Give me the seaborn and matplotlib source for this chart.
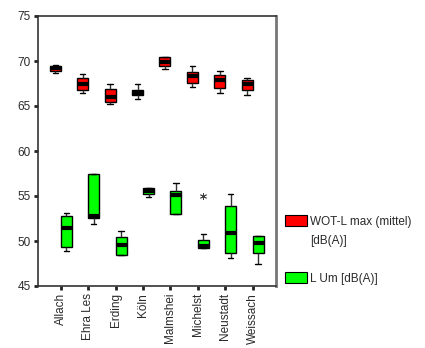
import matplotlib
matplotlib.use("Agg")
import matplotlib.pyplot as plt
import seaborn as sns
import pandas as pd
from matplotlib.patches import Patch

# Orte (Messstellen)
orte = ["Allach", "Ehra Les", "Erding", "Köln",
        "Malmshei", "Michelst", "Neustadt", "Weissach"]

# WOT-L max (mittel) [dB(A)] - Werte je Ort
wot_lmax = [
    [68.65, 68.9, 69.2, 69.45, 69.55],
    [66.4, 66.75, 67.5, 68.1, 68.6],
    [65.25, 65.5, 65.95, 66.9, 67.4],
    [65.75, 66.25, 66.5, 66.8, 67.4],
    [69.15, 69.5, 69.9, 70.4, 70.4],
    [67.15, 67.6, 68.3, 68.8, 69.4],
    [66.5, 67.0, 67.9, 68.4, 68.9],
    [66.25, 66.75, 67.45, 67.9, 68.15],
]

# L Um [dB(A)] - Werte je Ort (Michelst mit Ausreisser)
l_um = [
    [48.9, 49.35, 51.4, 52.8, 53.15],
    [51.9, 52.6, 52.8, 57.45, 57.45],
    [48.5, 48.5, 49.6, 50.5, 51.15],
    [54.9, 55.2, 55.6, 55.9, 55.9],
    [52.95, 52.95, 55.1, 55.6, 56.5],
    [49.25, 49.25, 49.25, 49.4, 49.55, 50.75, 55.05],
    [48.15, 48.7, 50.9, 53.85, 55.25],
    [47.5, 48.7, 49.75, 50.6, 50.6],
]

serien = ["WOT-L max (mittel) [dB(A)]", "L Um [dB(A)]"]
farben = ["#ff0000", "#00ff00"]

rows = []
for ort, werte in zip(orte, wot_lmax):
    for w in werte:
        rows.append((ort, w, serien[0]))
for ort, werte in zip(orte, l_um):
    for w in werte:
        rows.append((ort, w, serien[1]))
df = pd.DataFrame(rows, columns=["Ort", "Wert", "Messung"])

sns.set_theme(style="white")
plt.rcParams["font.family"] = ["Liberation Sans", "DejaVu Sans"]

fig = plt.figure(figsize=(4.25, 3.48), dpi=100)
ax = fig.add_axes([38 / 425, 1 - 286 / 348, 238 / 425, 270 / 348])

sns.boxplot(
    data=df, x="Ort", y="Wert", hue="Messung",
    order=orte, hue_order=serien, palette=farben,
    saturation=1, width=0.8, linecolor="black", linewidth=1,
    legend=False, ax=ax,
    medianprops={"linewidth": 3, "color": "black"},
    whiskerprops={"color": "#333333"},
    flierprops={"marker": (6, 2, 0), "markersize": 5,
                "markeredgecolor": "#444444", "markeredgewidth": 0.6},
)

ax.set_xlim(-0.83, 7.85)
ax.set_ylim(45, 75)
ax.set_yticks([45, 50, 55, 60, 65, 70, 75])
ax.set_xlabel("")
ax.set_ylabel("")
ax.tick_params(axis="both", direction="out", length=3, width=2,
               color="#222222", labelsize=8.5, labelcolor="#2a2a2a", pad=2)
ax.tick_params(axis="x", labelrotation=90)
ax.tick_params(left=True, bottom=True)

for side in ["left", "top", "bottom"]:
    ax.spines[side].set_color("#333333")
    ax.spines[side].set_linewidth(1.2)
ax.spines["right"].set_color("#777777")
ax.spines["right"].set_linewidth(2)

# Legende rechts neben dem Diagramm
leg1 = fig.legend(
    handles=[Patch(facecolor=farben[0], edgecolor="black", linewidth=0.8),
             Patch(facecolor="none", edgecolor="none")],
    labels=["WOT-L max (mittel)", "[dB(A)]"],
    loc="upper left", bbox_to_anchor=(285 / 425, 1 - 215 / 348),
    frameon=False, fontsize=8.5, handlelength=1.85, handleheight=1.1,
    handletextpad=0.3, labelspacing=0.6, borderpad=0, borderaxespad=0,
)
for t in leg1.get_texts():
    t.set_color("#2a2a2a")

leg2 = fig.legend(
    handles=[Patch(facecolor=farben[1], edgecolor="black", linewidth=0.8)],
    labels=["L Um [dB(A)]"],
    loc="upper left", bbox_to_anchor=(285 / 425, 1 - 272 / 348),
    frameon=False, fontsize=8.5, handlelength=1.85, handleheight=1.1,
    handletextpad=0.3, borderpad=0, borderaxespad=0,
)
for t in leg2.get_texts():
    t.set_color("#2a2a2a")

fig.savefig("out.png", dpi=100)
